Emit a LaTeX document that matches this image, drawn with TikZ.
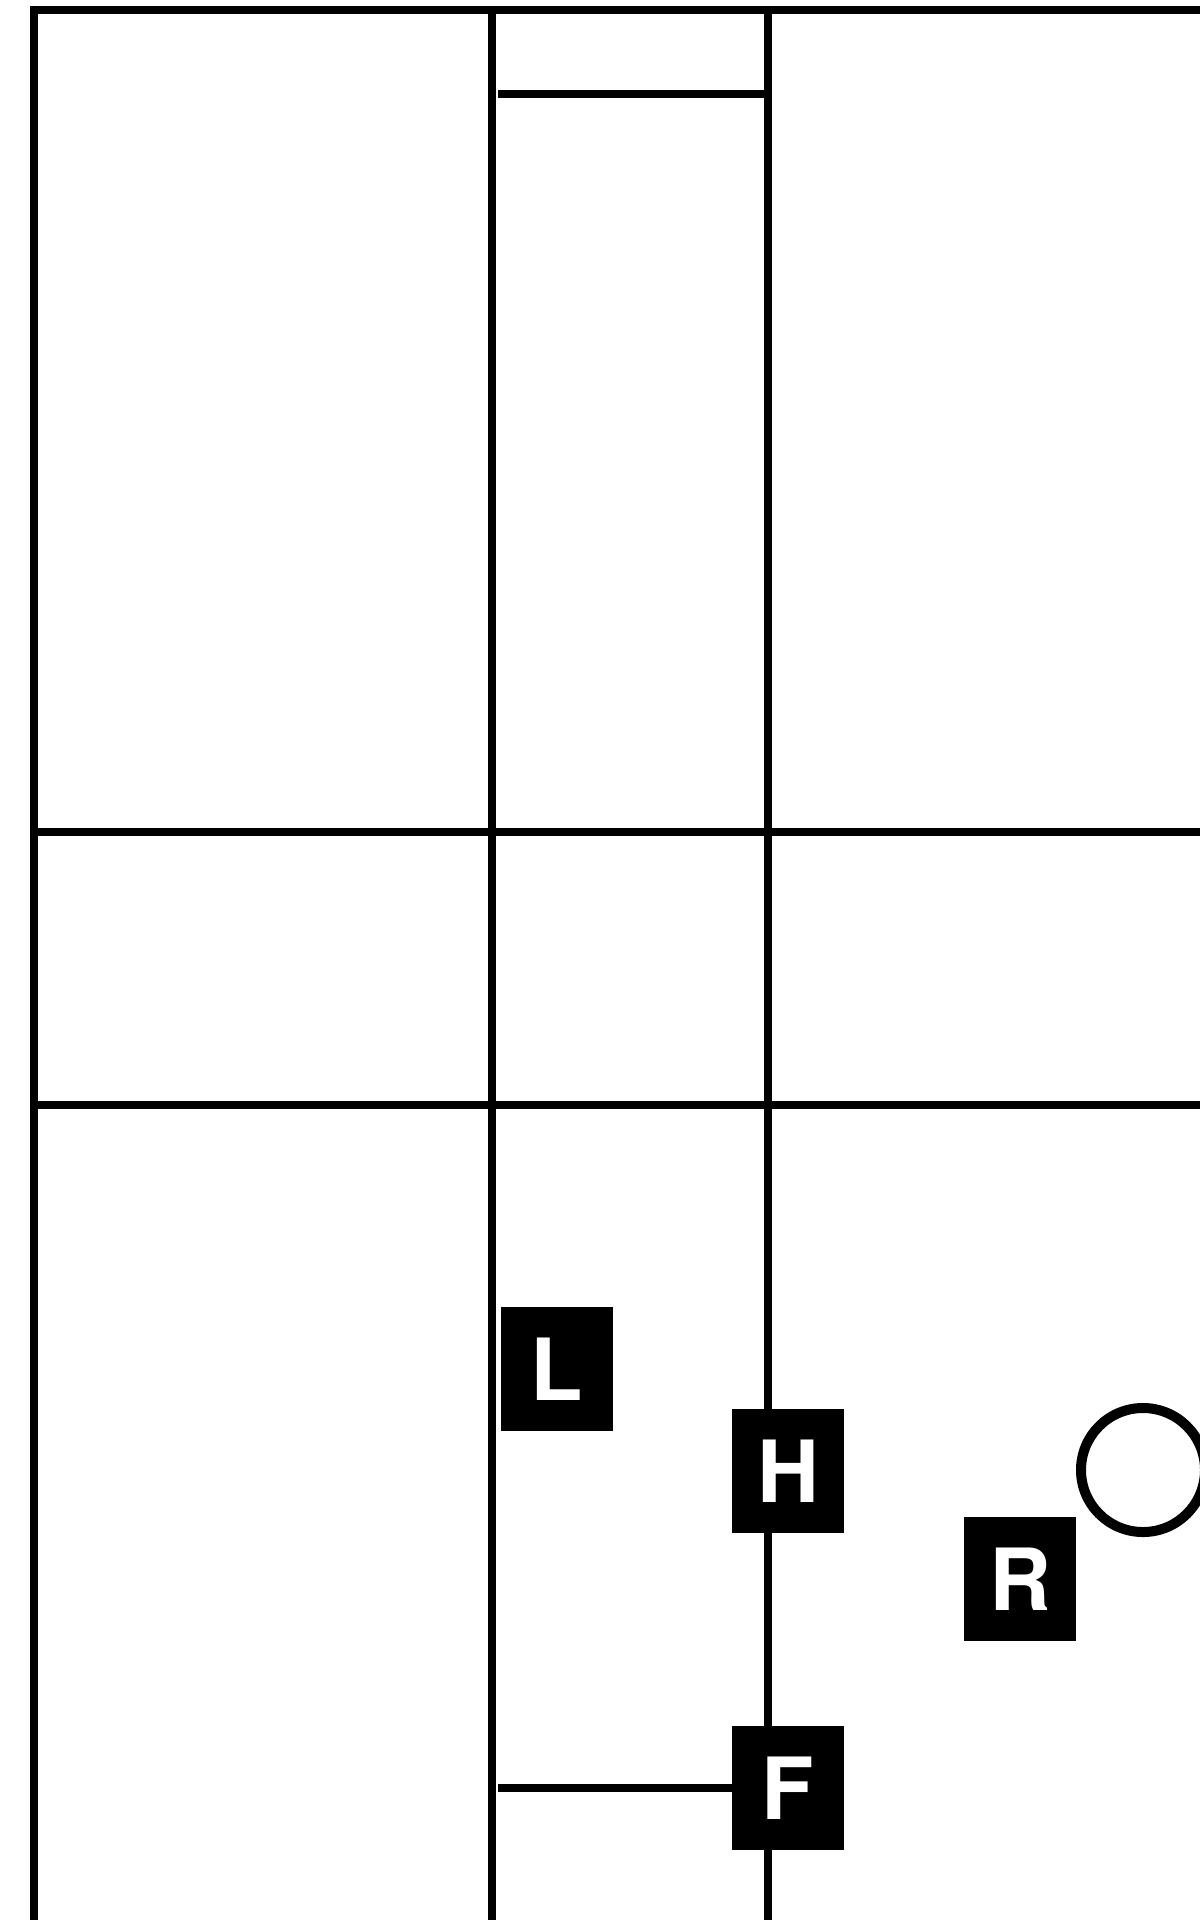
\documentclass[tikz,border=0pt]{standalone}
\usepackage{fontspec}
\newfontfamily\lblfont{TeX Gyre Heros}
\begin{document}
\begin{tikzpicture}[x=0.025cm,y=-0.025cm,
  frame/.style={line width=0.2cm, line cap=rect},
  tick/.style={line width=0.2cm},
  tag/.style={fill=black, text=white, inner sep=0pt, minimum width=2.8cm, minimum height=3.1cm,
    font=\lblfont\bfseries\fontsize{61}{61}\selectfont},
  ring/.style={circle, draw=black, line width=0.25cm, minimum size=3.1cm, inner sep=0pt}]
\useasboundingbox (0,0) rectangle (1200,1920);
\clip (0,0) rectangle (1200,1920);
% grid coordinates
\coordinate (c1t) at (34,10);     \coordinate (c1b) at (34,1930);
\coordinate (c2t) at (491.5,10);  \coordinate (c2b) at (491.5,1930);
\coordinate (c3t) at (768,10);    \coordinate (c3b) at (768,1930);
\coordinate (r0r) at (1210,10);
\coordinate (r1l) at (34,831.5);  \coordinate (r1r) at (1210,831.5);
\coordinate (r2l) at (34,1105);   \coordinate (r2r) at (1210,1105);
\coordinate (s1l) at (498,94);    \coordinate (s1r) at (768,94);
\coordinate (s2l) at (498,1788);
% frame lines
\draw[frame] (c1t) -- (r0r);
\draw[frame] (c1t) -- (c1b);
\draw[frame] (c2t) -- (c2b);
\draw[frame] (c3t) -- (c3b);
\draw[frame] (r1l) -- (r1r);
\draw[frame] (r2l) -- (r2r);
\draw[tick] (s1l) -- (s1r);
% tags
\node[tag] (L) at (557,1369) {L};
\node[tag] (H) at (788,1471) {H};
\node[tag] (R) at (1020,1579) {R};
\node[tag] (F) at (788,1788) {F};
\node[ring] (O) at (1143,1470) {};
\draw[tick] (s2l) -- (F.west);
\end{tikzpicture}
\end{document}
